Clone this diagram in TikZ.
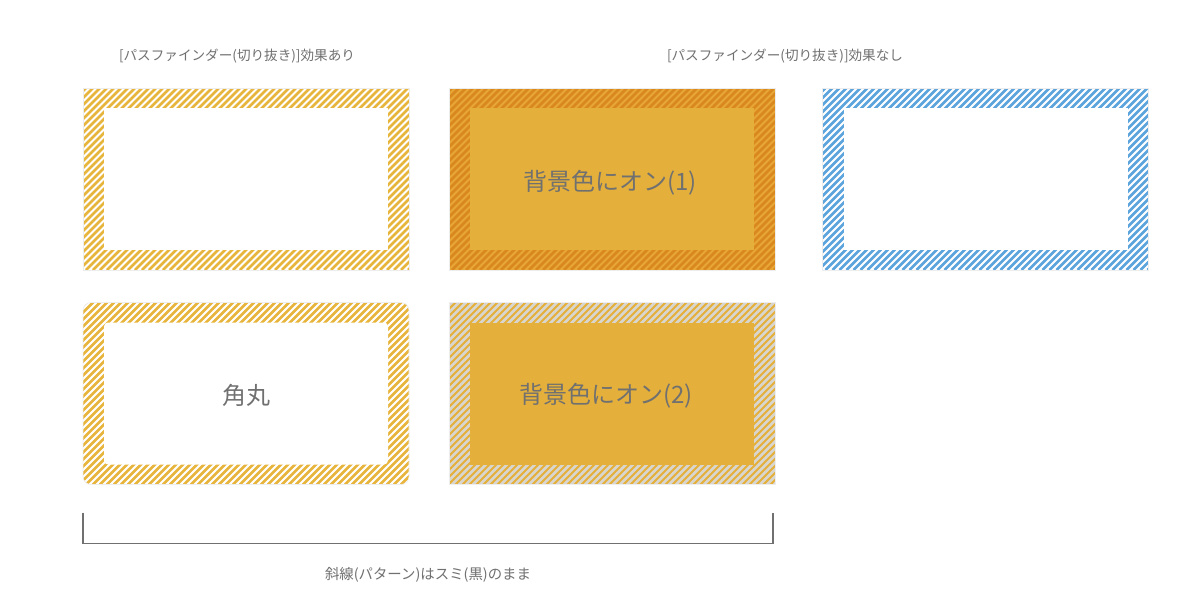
\documentclass[tikz,border=0pt]{standalone}
\usepackage{fontspec}
\setmainfont{Noto Sans CJK JP}
\definecolor{stripeyellow}{HTML}{E8B53C}
\definecolor{stripeblue}{HTML}{5BA4DC}
\definecolor{darkorange}{HTML}{D8881F}
\definecolor{frameorange}{HTML}{E8A636}
\definecolor{fillyellow}{HTML}{E4B03B}
\definecolor{paleGrey}{HTML}{D9D6CF}
\definecolor{textgrey}{HTML}{707070}
\tikzset{
  frame/.style={minimum width=326pt,minimum height=182pt,inner sep=0pt,outer sep=0pt,draw=black!7,line width=0.6pt},
  inner/.style={minimum width=284pt,minimum height=142pt,inner sep=0pt,outer sep=0pt},
  hatch/.style={path picture={
      \foreach \k in {-200,-193,...,340}
        \draw[line width=2.8pt,#1] ([xshift=\k pt]path picture bounding box.south west) -- ++(200,-200);}},
  caption/.style={text=textgrey,font=\fontsize{13.6pt}{16pt}\selectfont},
  bigtext/.style={text=textgrey,font=\fontsize{24pt}{28pt}\selectfont}
}
\begin{document}
\begin{tikzpicture}[x=1pt,y=-1pt]
  \useasboundingbox[fill=white] (0,0) rectangle (1200,613);
  %% top row
  \node[frame,fill=white,hatch=stripeyellow] (boxA) at (246,179) {};
  \node[inner,fill=white] (innerA) at (boxA.center) {};
  \node[frame,fill=frameorange,hatch=darkorange] (boxB) at (612,179) {};
  \node[inner,fill=fillyellow] (innerB) at (boxB.center) {};
  \node[frame,fill=white,hatch=stripeblue] (boxC) at (985.5,179) {};
  \node[inner,fill=white] (innerC) at (boxC.center) {};
  %% bottom row
  \node[frame,rounded corners=8pt,fill=white,hatch=stripeyellow] (boxD) at (246,393.5) {};
  \node[inner,rounded corners=4pt,fill=white] (innerD) at (boxD.center) {};
  \node[frame,fill=fillyellow,hatch=paleGrey] (boxE) at (612,393.5) {};
  \node[inner,fill=fillyellow] (innerE) at (boxE.center) {};
  %% box texts
  \node[bigtext] (textB) at ([xshift=-2pt,yshift=-4pt]innerB.center) {背景色にオン(1)};
  \node[bigtext] (textD) at ([yshift=-2pt]innerD.center) {角丸};
  \node[bigtext] (textE) at ([xshift=-6pt,yshift=-2pt]innerE.center) {背景色にオン(2)};
  %% labels
  \node[caption] (capA) at (237,56) {[パスファインダー(切り抜き)]効果あり};
  \node[caption] (capC) at (785,56) {[パスファインダー(切り抜き)]効果なし};
  %% bracket
  \coordinate (brL) at ([yshift=-28pt]boxD.south west);
  \coordinate (brR) at ([xshift=-2pt,yshift=-28pt]boxE.south east);
  \draw[textgrey,line width=1.2pt] (brL) -- ++(0,31) -| (brR);
  \node[caption,font=\fontsize{14.4pt}{17pt}\selectfont] (capB) at (428,575) {斜線(パターン)はスミ(黒)のまま};
\end{tikzpicture}
\end{document}
